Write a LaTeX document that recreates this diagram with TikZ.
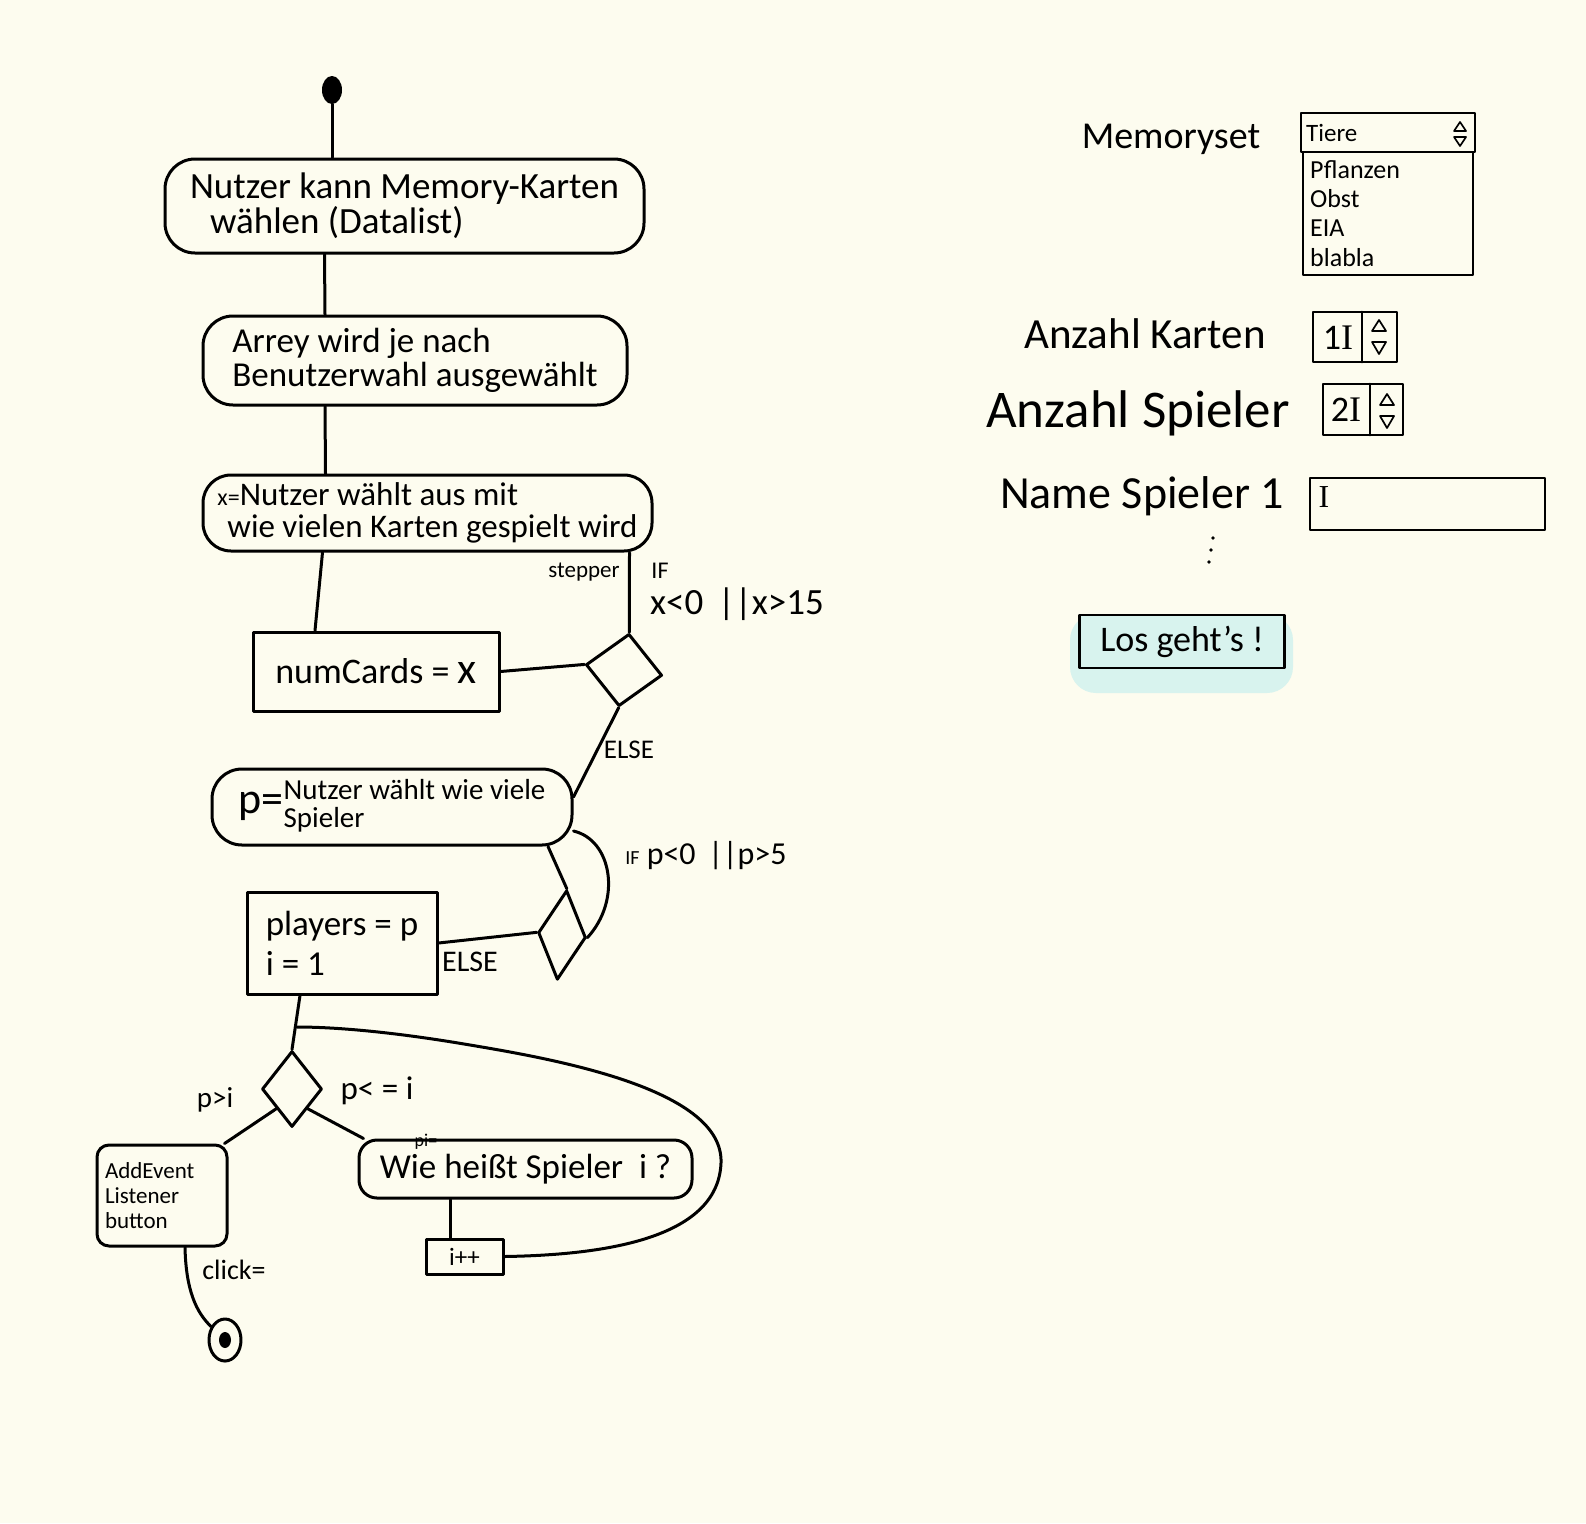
\documentclass[tikz,border=0pt]{standalone}
\usepackage{fontspec}
\setmainfont{Carlito}
\newfontfamily\cursorfont{Liberation Serif}
\usetikzlibrary{shapes.geometric}
\definecolor{paper}{HTML}{FDFCEF}
\definecolor{glowc}{HTML}{D8F3EE}
\newcommand\hsz[2]{\fontsize{#1}{#2}\selectfont}
\begin{document}
\begin{tikzpicture}[x=1pt,y=-1pt,
  ln/.style={line width=3pt,line cap=round,line join=round},
  thin/.style={line width=1.7pt,line cap=round,line join=round},
  act/.style={draw,ln,rounded corners=#1,inner sep=0pt,align=left},
  blk/.style={draw,ln,inner sep=0pt,align=left},
  dia/.style={draw,ln,diamond,inner sep=0pt},
  lbl/.style={inner sep=0pt},
  ui/.style={draw,line width=2.7pt,line cap=round,line join=round}]
\fill[paper] (0,0) rectangle (1586,1523);
\useasboundingbox (0,0) rectangle (1586,1523);

% ---------- activity diagram ----------
\node[fill,ellipse,minimum width=20pt,minimum height=28pt,inner sep=0pt] (start) at (332,90) {};
\node[act=30pt,minimum width=479pt,minimum height=94pt,font=\hsz{37}{35}] (b1) at (404.5,206)
  {Nutzer kann Memory-Karten\\\hspace*{20pt}wählen (Datalist)};
\node[act=30pt,minimum width=424pt,minimum height=89pt,font=\hsz{35}{34}] (b2) at (415,360.5)
  {Arrey wird je nach\\Benutzerwahl ausgewählt};
\node[act=28pt,minimum width=449pt,minimum height=76pt,font=\hsz{33}{32}] (b3) at (427.5,513)
  {{\hsz{24}{24}x=}Nutzer wählt aus mit\\\hspace*{10pt}wie vielen Karten gespielt wird};
\node[blk,minimum width=246pt,minimum height=79pt,font=\hsz{36}{36}] (b4) at (376,671.5)
  {numCards = {\hsz{44}{44}x}};
\node[act=30pt,minimum width=360pt,minimum height=76pt,font=\hsz{29}{25}] (b5) at (392,807)
  {{\hsz{44}{44}p=}\begin{tabular}[c]{@{}l@{}}Nutzer wählt wie viele\\Spieler\end{tabular}};
\node[blk,minimum width=190pt,minimum height=102pt,font=\hsz{35}{40}] (b6) at (342,943)
  {players = p\\i = 1};
\node[act=12pt,minimum width=130pt,minimum height=101pt,text width=114pt,font=\hsz{23}{25}] (b7) at (162,1195.5)
  {AddEvent\\Listener\\button};
\node[act=18pt,minimum width=333pt,minimum height=58pt,font=\hsz{35}{35}] (b8) at (525.5,1169)
  {Wie heißt Spieler\ \ i ?};
\node[blk,minimum width=77pt,minimum height=35pt,font=\hsz{25}{25}] (b9) at (464.5,1256.5) {i++};

\node[dia,minimum width=77pt,minimum height=73pt,rotate=-8] (d1) at (624,670) {};
\node[dia,minimum width=48pt,minimum height=90pt,rotate=-6] (d2) at (562,935) {};
\node[dia,minimum width=60pt,minimum height=76pt] (d3) at (292,1089) {};

\node[draw,ln,ellipse,minimum width=32pt,minimum height=42pt,inner sep=0pt] (end) at (225,1340) {};
\node[fill,ellipse,minimum width=12pt,minimum height=16pt,inner sep=0pt] (enddot) at (end) {};

% connectors
\draw[ln] (start.south) -- (start.south |- b1.north);
\draw[ln] ([xshift=-80pt]b1.south) -- ([xshift=-90pt]b2.north);
\draw[ln] ([xshift=-90pt]b2.south) -- ([xshift=-102pt]b3.north);
\draw[ln] ([xshift=-105pt]b3.south) -- ([xshift=-61pt]b4.north);
\draw[ln] ([xshift=202pt]b3.south) -- (d1.north);
\draw[ln] (b4.east) -- (d1.west);
\draw[ln] (d1.south) -- ([yshift=10pt]b5.east);
\draw[ln] ([xshift=156pt]b5.south) -- (d2.north);
\draw[ln] ([yshift=-24pt]b5.east) .. controls (612,840) and (622,900) .. (d2.east);
\draw[ln] (b6.east) -- (d2.west);
\draw[ln] ([xshift=-42pt]b6.south) -- (d3.north);
\coordinate (merge) at (297,1027);
\draw[ln] (b9.east) .. controls (600,1255) and (718,1240) .. (721,1163)
  .. controls (724,1090) and (560,1060) .. (470,1045)
  .. controls (400,1033) and (340,1027) .. (merge);
\draw[ln] (d3.south west) -- ([xshift=-4pt]b7.north east);
\draw[ln] (d3.south east) -- ([xshift=6pt]b8.north west);
\draw[ln] ([xshift=-75pt]b8.south) -- ([xshift=-14pt]b9.north);
\draw[ln] ([xshift=23pt]b7.south) .. controls (186,1290) and (196,1312) .. (end);

% labels
\node[lbl,font=\hsz{23}{23}] (lstep) at (584,572) {stepper};
\node[lbl,font=\hsz{24}{24}] (lif1) at (660,571) {IF};
\node[lbl,font=\hsz{37}{37}] (lcond1) at (737,604) {x<0 \,||x>15};
\node[lbl,font=\hsz{27}{27}] (lelse1) at (629,750) {ELSE};
\node[lbl,font=\hsz{32}{32}] (lcond2) at (706,856) {{\hsz{20}{20}IF} p<0 \,||p>5};
\node[lbl,font=\hsz{30}{30}] (lelse2) at (470,962) {ELSE};
\node[lbl,font=\hsz{29}{29}] (lpgi) at (215,1100) {p>i};
\node[lbl,font=\hsz{33}{33}] (lple) at (377,1091) {p< = i};
\node[lbl,font=\hsz{18}{18}] (lpi) at (426,1142) {pi=};
\node[lbl,font=\hsz{28}{28}] (lclick) at (234,1270) {click=};

% ---------- UI mock-up ----------
\node[lbl,font=\hsz{38}{38}] (mset) at (1171,139) {Memoryset};
\draw[ui] (1301,113) rectangle (1475,152);
\draw[ui] (1303,152) rectangle (1473,275);
\node[lbl,anchor=west,font=\hsz{25}{25}] (tiere) at (1306,133) {Tiere};
\draw[thin] (1454,131) -- (1460,122) -- (1466,131) -- cycle;
\draw[thin] (1454,137) -- (1466,137) -- (1460,146) -- cycle;
\node[lbl,anchor=west,font=\hsz{26}{26}] (it1) at (1310,170) {Pflanzen};
\node[lbl,anchor=west,font=\hsz{26}{26}] (it2) at (1310,199) {Obst};
\node[lbl,anchor=west,font=\hsz{26}{26}] (it3) at (1310,228) {EIA};
\node[lbl,anchor=west,font=\hsz{26}{26}] (it4) at (1310,258) {blabla};

\node[lbl,font=\hsz{43}{43}] (akarten) at (1145,334) {Anzahl Karten};
\draw[ui] (1313,312) rectangle (1397,362);
\draw[ui] (1362,312) -- (1362,362);
\node[lbl,font=\hsz{36}{36}] (v1) at (1338,338) {1{\cursorfont I}};
\draw[thin] (1372,331) -- (1379,320) -- (1386,331) -- cycle;
\draw[thin] (1372,342) -- (1386,342) -- (1379,354) -- cycle;

\node[lbl,font=\hsz{53}{53}] (aspieler) at (1138,413) {Anzahl Spieler};
\draw[ui] (1323,384) rectangle (1403,435);
\draw[ui] (1370,384) -- (1370,435);
\node[lbl,font=\hsz{36}{36}] (v2) at (1346,410) {2{\cursorfont I}};
\draw[thin] (1380,405) -- (1387,394) -- (1394,405) -- cycle;
\draw[thin] (1380,416) -- (1394,416) -- (1387,428) -- cycle;

\node[lbl,font=\hsz{46}{46}] (nspieler) at (1142,496) {Name Spieler 1};
\draw[ui] (1310,478) rectangle (1545,530);
\node[lbl,font=\hsz{32}{32}] (cur) at (1324,497) {\cursorfont I};

\fill (1213,538) circle (1.8pt);
\fill (1211,550) circle (1.8pt);
\fill (1209,562) circle (1.8pt);

\fill[glowc,rounded corners=26pt] (1070,614) rectangle (1293,693);
\node[ui,fill=glowc,minimum width=205pt,minimum height=53pt,inner sep=0pt,font=\hsz{36}{36}] (los) at (1182,641.5) {Los geht's !};
\end{tikzpicture}
\end{document}
